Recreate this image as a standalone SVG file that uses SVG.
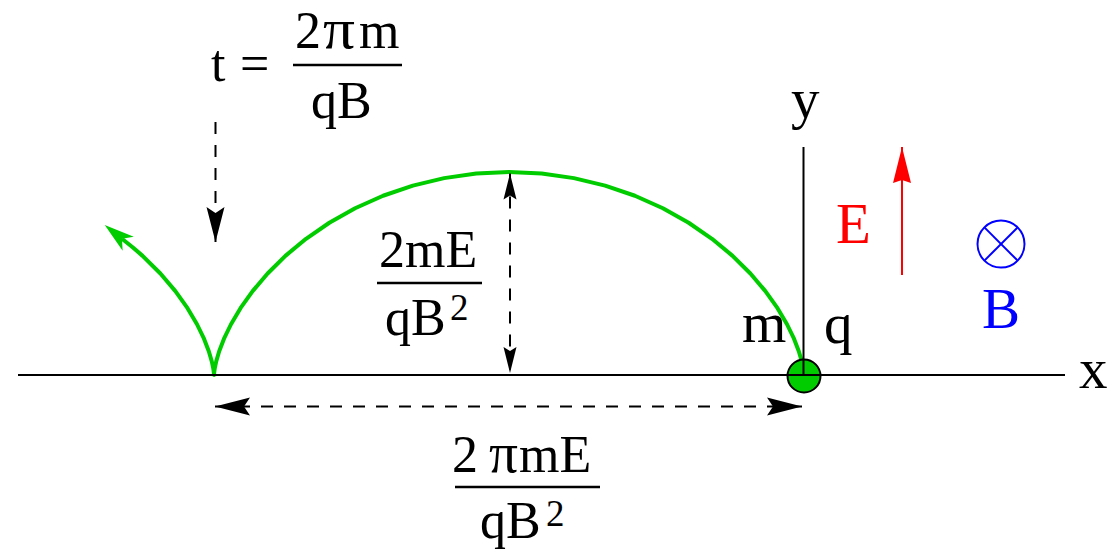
<svg xmlns="http://www.w3.org/2000/svg" width="1117" height="556" viewBox="0 0 1117 556">
<style>
text{font-family:"Liberation Serif","Times New Roman",serif;fill:#000}
.f{font-size:52px}
.pi{font-size:56px}
.l{font-size:57px}
.sup{font-size:37px}
.dash{fill:none;stroke:#000;stroke-width:2;stroke-dasharray:12 11}
.ax{stroke:#000;stroke-width:2;fill:none}
.bar{stroke:#000;stroke-width:2.5}
</style>
<defs>
<marker id="ahL" markerUnits="userSpaceOnUse" orient="auto-start-reverse" refX="0" refY="0" markerWidth="40" markerHeight="20" overflow="visible"><path d="M0,0 L-35,-9 L-29,0 L-35,9 Z" fill="#000"/></marker>
<marker id="ahS" markerUnits="userSpaceOnUse" orient="auto-start-reverse" refX="0" refY="0" markerWidth="30" markerHeight="16" overflow="visible"><path d="M0,0 L-26,-6.5 L-22,0 L-26,6.5 Z" fill="#000"/></marker>
<marker id="ahG" markerUnits="userSpaceOnUse" orient="auto" refX="0" refY="0" markerWidth="40" markerHeight="20" overflow="visible"><path d="M22,0 L-8,-9 L0,0 L-8,9 Z" fill="#00cc00"/></marker>
<marker id="ahR" markerUnits="userSpaceOnUse" orient="auto" refX="0" refY="0" markerWidth="40" markerHeight="20" overflow="visible"><path d="M0,0 L-36,-9 L-33,0 L-36,9 Z" fill="#ff0000"/></marker>
</defs>
<g id="trajectory">
<polyline fill="none" stroke="#00cc00" stroke-width="4" stroke-linejoin="round" marker-end="url(#ahG)" points="804,375 803.92,373.46 803.34,368.88 801.78,361.40 798.80,351.25 793.99,338.74 786.99,324.25 777.52,308.21 765.36,291.13 750.40,273.50 732.59,255.87 711.96,238.78 688.66,222.75 662.88,208.26 634.92,195.75 605.12,185.60 573.90,178.12 541.69,173.54 509,172 476.31,173.54 444.10,178.12 412.88,185.60 383.08,195.75 355.12,208.26 329.34,222.75 306.04,238.78 285.41,255.87 267.60,273.50 252.64,291.13 240.48,308.21 231.01,324.25 224.01,338.74 219.20,351.25 216.22,361.40 214.66,368.88 214.08,373.46 214,375 213.92,373.46 213.34,368.88 211.78,361.40 208.80,351.25 203.99,338.74 196.99,324.25 187.52,308.21 175.36,291.13 160.40,273.50 142.59,255.87 132.62,247.23 121.96,238.78"/>
</g>
<g id="particle">
<circle cx="804" cy="376" r="16.5" fill="#00cc00" stroke="#000" stroke-width="2"/>
</g>
<g id="axes">
<line class="ax" x1="18" y1="375" x2="1065" y2="375"/>
<line class="ax" x1="803.5" y1="147" x2="803.5" y2="375"/>
<text class="l" x="1079" y="388">x</text>
<text class="l" x="791" y="118">y</text>
</g>
<g id="connectors">
<line class="dash" x1="215.5" y1="122" x2="215.5" y2="242" marker-end="url(#ahL)"/>
<line class="dash" x1="510" y1="173.5" x2="510" y2="373" marker-start="url(#ahS)" marker-end="url(#ahS)"/>
<line class="dash" x1="215" y1="406.5" x2="802" y2="406.5" marker-start="url(#ahL)" marker-end="url(#ahL)"/>
</g>
<g id="period-label">
<text class="f" x="211" y="81">t</text>
<text class="f" x="240" y="81">=</text>
<text class="f" x="295" y="48">2</text>
<text class="pi" x="323" y="48" textLength="32" lengthAdjust="spacingAndGlyphs">π</text>
<text class="f" x="359" y="48">m</text>
<line class="bar" x1="293" y1="65" x2="402" y2="65"/>
<text class="f" x="311" y="118">qB</text>
</g>
<g id="height-label">
<text class="f" x="379" y="267">2mE</text>
<line class="bar" x1="377" y1="283" x2="482" y2="283"/>
<text class="f" x="385" y="335">qB</text>
<text class="sup" x="450" y="320">2</text>
</g>
<g id="width-label">
<text class="f" x="452" y="472">2</text>
<text class="pi" x="489" y="472" textLength="29" lengthAdjust="spacingAndGlyphs">π</text>
<text class="f" x="519" y="472">mE</text>
<line class="bar" x1="455" y1="487" x2="600" y2="487"/>
<text class="f" x="480" y="538">qB</text>
<text class="sup" x="546" y="526">2</text>
</g>
<g id="particle-labels">
<text class="l" x="742" y="342">m</text>
<text class="l" x="824" y="343">q</text>
</g>
<g id="E-field">
<line x1="902" y1="275" x2="902" y2="147" stroke="#ff0000" stroke-width="2" marker-end="url(#ahR)"/>
<text class="l" x="836" y="243" style="fill:#ff0000">E</text>
</g>
<g id="B-field">
<circle cx="1001" cy="244" r="23.5" fill="none" stroke="#0000ff" stroke-width="2"/>
<line x1="984.4" y1="227.4" x2="1017.6" y2="260.6" stroke="#0000ff" stroke-width="2"/>
<line x1="1017.6" y1="227.4" x2="984.4" y2="260.6" stroke="#0000ff" stroke-width="2"/>
<text class="l" x="982" y="328" style="fill:#0000ff">B</text>
</g>
</svg>
